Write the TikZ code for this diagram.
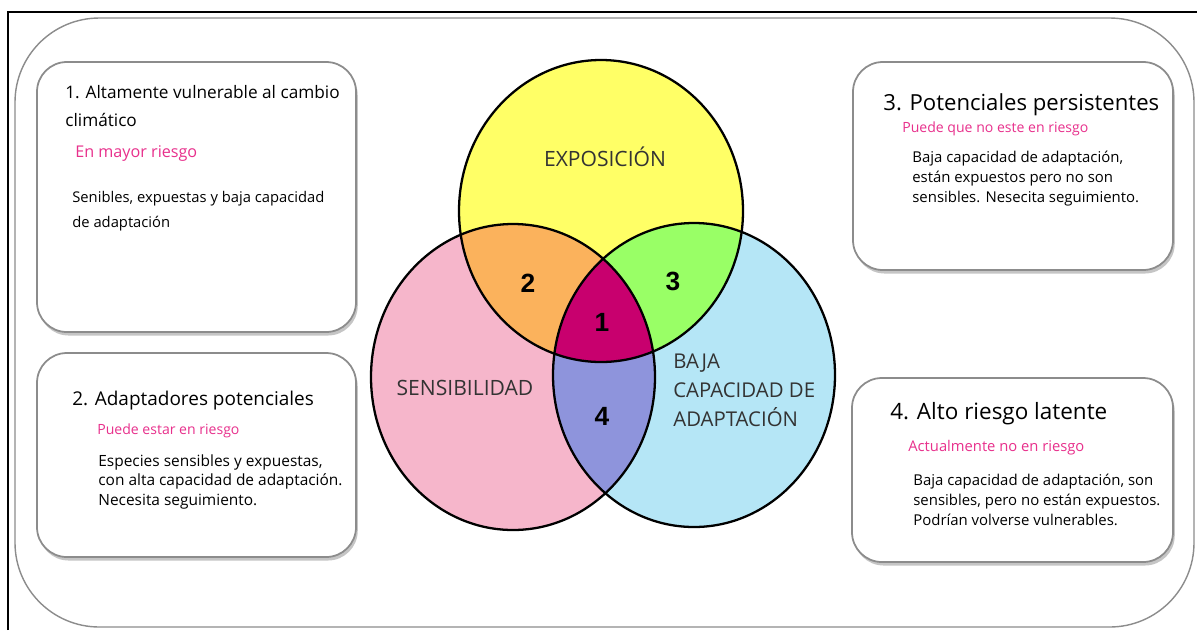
\documentclass[tikz,border=0pt]{standalone}
\usepackage{fontspec}
\setmainfont{Open Sans}
\newfontfamily\numfont{Liberation Sans}
\usetikzlibrary{shadows}

\definecolor{expo}{HTML}{FFFF66}
\definecolor{sens}{HTML}{F6B6CB}
\definecolor{adap}{HTML}{B5E6F6}
\definecolor{zonetwo}{HTML}{FBB25C}
\definecolor{zonethree}{HTML}{99FF66}
\definecolor{zonefour}{HTML}{8E94DC}
\definecolor{zoneone}{HTML}{C8006E}
\definecolor{riesgo}{HTML}{E8308C}

\begin{document}
\begin{tikzpicture}[x=0.02cm,y=-0.02cm,
  infobox/.style={draw=black!45,line width=1pt,rounded corners=17pt,fill=white,
    drop shadow={shadow xshift=1pt,shadow yshift=-2pt,opacity=0.45}},
  titulo/.style={anchor=base west,inner sep=0pt,font=\fontsize{10.8}{12}\selectfont},
  nota/.style={anchor=base west,inner sep=0pt,text=riesgo,font=\fontsize{8}{9}\selectfont},
  texto/.style={anchor=north west,inner sep=0pt,align=left,font=\fontsize{8.5}{11.3}\selectfont},
  zona/.style={inner sep=0pt,font=\numfont\bfseries\fontsize{15}{16}\selectfont},
  grupo/.style={inner sep=0pt,font=\fontsize{12}{16.4}\selectfont,text=black!80}]
\useasboundingbox (0,0) rectangle (1197,630);
\fill[white] (0,0) rectangle (1197,630);
\draw[line width=1.2pt] (8,630) -- (8,12) -- (1197,12);
\draw[black!45,line width=0.8pt,rounded corners=48pt] (15,18) rectangle (1194,627);

% cajas
\draw[infobox] (37,62) rectangle (356,332);
\draw[infobox] (37,353) rectangle (356,557);
\draw[infobox] (853,62) rectangle (1173,270);
\draw[infobox] (852,378) rectangle (1173,562);

% venn
\fill[sens] (513,377) ellipse [x radius=142,y radius=153];
\fill[adap] (694,375) ellipse [x radius=141,y radius=152];
\fill[expo] (601,211) ellipse [x radius=142,y radius=151];
\begin{scope}
\clip (601,211) ellipse [x radius=142,y radius=151];
\fill[zonetwo] (513,377) ellipse [x radius=142,y radius=153];
\fill[zonethree] (694,375) ellipse [x radius=141,y radius=152];
\end{scope}
\begin{scope}
\clip (513,377) ellipse [x radius=142,y radius=153];
\fill[zonefour] (694,375) ellipse [x radius=141,y radius=152];
\clip (694,375) ellipse [x radius=141,y radius=152];
\fill[zoneone] (601,211) ellipse [x radius=142,y radius=151];
\end{scope}
\draw[line width=1.3pt] (601,211) ellipse [x radius=142,y radius=151];
\draw[line width=1.3pt] (513,377) ellipse [x radius=142,y radius=153];
\draw[line width=1.3pt] (694,375) ellipse [x radius=141,y radius=152];

\node[grupo] (expo) at (605,157) {EXPOSICIÓN};
\node[grupo] (sens) at (465,388) {SENSIBILIDAD};
\node[grupo,anchor=north west,align=left,font=\fontsize{11.6}{16.4}\selectfont] (adap) at (673,354) {BAJA\\CAPACIDAD DE\\ADAPTACIÓN};
\node[zona] (z1) at (602,322) {1};
\node[zona] (z2) at (528,283) {2};
\node[zona] (z3) at (673,281) {3};
\node[zona] (z4) at (602,416) {4};

% caja 1
\node[titulo,font=\fontsize{9.8}{12}\selectfont] (t1) at (65,98) {1. Altamente vulnerable al cambio};
\node[titulo,font=\fontsize{9.8}{12}\selectfont] (t1b) at (65,126) {climático};
\node[nota,font=\fontsize{9.2}{9}\selectfont] (n1) at (75,157) {En mayor riesgo};
\node[texto,font=\fontsize{8.4}{14}\selectfont] (d1) at (72,191) {Senibles, expuestas y baja capacidad\\de adaptación};

% caja 2
\node[titulo] (t2) at (72,405) {2. Adaptadores potenciales};
\node[nota] (n2) at (97,434) {Puede estar en riesgo};
\node[texto,font=\fontsize{8.8}{11.3}\selectfont] (d2) at (98,454) {Especies sensibles y expuestas,\\con alta capacidad de adaptación.\\Necesita seguimiento.};

% caja 3
\node[titulo,font=\fontsize{12.6}{12}\selectfont] (t3) at (883,110) {3. Potenciales persistentes};
\node[nota] (n3) at (902,132) {Puede que no este en riesgo};
\node[texto] (d3) at (912,151) {Baja capacidad de adaptación,\\están expuestos pero no son\\sensibles. Nesecita seguimiento.};

% caja 4
\node[titulo,font=\fontsize{12.8}{12}\selectfont] (t4) at (890,419) {4. Alto riesgo latente};
\node[nota,font=\fontsize{8.4}{9}\selectfont] (n4) at (908,451) {Actualmente no en riesgo};
\node[texto] (d4) at (913,474) {Baja capacidad de adaptación, son\\sensibles, pero no están expuestos.\\Podrían volverse vulnerables.};
\end{tikzpicture}
\end{document}
